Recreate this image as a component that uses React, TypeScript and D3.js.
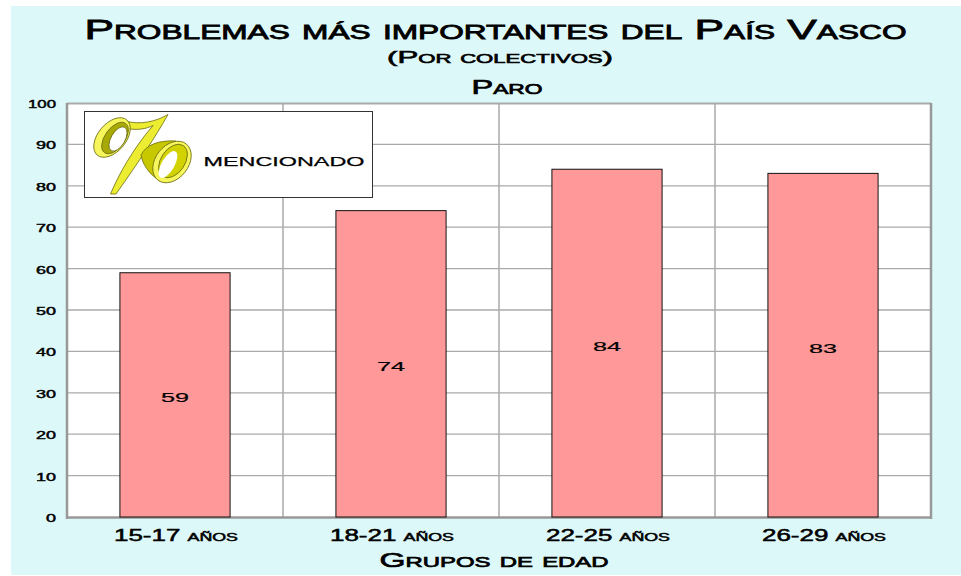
import React from "react";
import * as d3 from "d3";

const categories = ["15-17 años", "18-21 años", "22-25 años", "26-29 años"];
const values = [59, 74, 84, 83];
const yTicks = [0, 10, 20, 30, 40, 50, 60, 70, 80, 90, 100];
const titleText = "Problemas más importantes del País Vasco";
const subtitleText = "(Por colectivos)";
const sectionText = "Paro";
const xAxisTitle = "Grupos de edad";
const logoLabel = "mencionado";

const FONT = "'Liberation Sans', Arial, sans-serif";
const PLOT = { left: 67, right: 931, top: 103, bottom: 517 };

function WideText({ x, y, w, size, sw = 0.6, children }: any) {
  return (
    <text
      x={x}
      y={y}
      textAnchor="middle"
      textLength={w}
      lengthAdjust="spacingAndGlyphs"
      fontFamily={FONT}
      fontSize={size}
      fontWeight={400}
      fill="#000"
      stroke="#000"
      strokeWidth={sw}
      style={{ fontVariant: "small-caps" }}
    >
      {children}
    </text>
  );
}

function PercentLogo() {
  const edge = "#6b6b10";
  return (
    <g stroke={edge} strokeWidth={0.8}>
      <path d="M125 121 C140 125 155 122 168 114.5 C156 136 140 160 116 194 L110.5 194 C118 176 132 150 153 125.5 C146 129 138 130 130 129 Z" fill="#ecec30" />
      <ellipse cx={112} cy={137.5} rx={14} ry={23} transform="rotate(40 112 137.5)" fill="#f6f65c" />
      <ellipse cx={115} cy={138} rx={10} ry={18} transform="rotate(36 115 138)" fill="#a9a905" />
      <ellipse cx={118} cy={139} rx={7} ry={13.5} transform="rotate(30 118 139)" fill="#fff" />
      <path d="M141 155 C146 145 158 140 176 141 L164 182 C155 180 143 168 141 155 Z" fill="#c8c800" />
      <ellipse cx={172} cy={162} rx={16.5} ry={23} transform="rotate(38 172 162)" fill="#f6f65c" />
      <ellipse cx={173} cy={161} rx={12} ry={18.5} transform="rotate(34 173 161)" fill="#d2d200" />
      <ellipse cx={168} cy={164.5} rx={6.5} ry={15} transform="rotate(30 168 164.5)" fill="#fff" stroke="none" />
    </g>
  );
}

export default function App() {
  const x = d3.scaleBand<string>().domain(categories).range([PLOT.left, PLOT.right]).paddingInner(0).paddingOuter(0);
  const y = d3.scaleLinear().domain([0, 100]).range([PLOT.bottom, PLOT.top]);
  const barW = x.bandwidth() * 0.51;

  return (
    <svg width={961} height={576} style={{ position: "absolute", left: 0, top: 0, display: "block" }}>
      <rect x={0} y={0} width={961} height={576} fill="#fff" />
      <rect x={11} y={6} width={950} height={569} fill="#ddf8f8" />

      <WideText x={495.5} y={38.5} w={822} size={28} sw={0.8}>{titleText}</WideText>
      <WideText x={500} y={63} w={226} size={17} sw={0.6}>{subtitleText}</WideText>
      <WideText x={507} y={94} w={71} size={20} sw={0.7}>{sectionText}</WideText>

      <rect x={PLOT.left} y={PLOT.top} width={PLOT.right - PLOT.left} height={PLOT.bottom - PLOT.top} fill="#fff" />

      {yTicks.filter((t) => t > 0 && t < 100).map((t) => (
        <line key={t} x1={PLOT.left} x2={PLOT.right} y1={y(t)} y2={y(t)} stroke="#aaa" strokeWidth={1.3} />
      ))}
      {categories.slice(1).map((c) => (
        <line key={c} x1={x(c)} x2={x(c)} y1={PLOT.top} y2={PLOT.bottom} stroke="#aaa" strokeWidth={1.5} />
      ))}

      <line x1={PLOT.left} x2={PLOT.right} y1={PLOT.top + 0.5} y2={PLOT.top + 0.5} stroke="#aaa" strokeWidth={2} />
      <line x1={PLOT.right} x2={PLOT.right} y1={PLOT.top} y2={PLOT.bottom + 2} stroke="#999" strokeWidth={2.5} />
      <line x1={PLOT.left} x2={PLOT.left} y1={PLOT.top} y2={PLOT.bottom + 2} stroke="#999" strokeWidth={2.5} />
      <line x1={PLOT.left} x2={PLOT.right} y1={PLOT.bottom + 0.5} y2={PLOT.bottom + 0.5} stroke="#999" strokeWidth={2.5} />

      {categories.map((c, i) => {
        const cx = x(c)! + x.bandwidth() / 2;
        return (
          <g key={c}>
            <rect
              x={cx - barW / 2}
              y={y(values[i])}
              width={barW}
              height={PLOT.bottom - y(values[i])}
              fill="#ff9999"
              stroke="#111"
              strokeWidth={1}
            />
            <WideText x={cx} y={(y(values[i]) + PLOT.bottom) / 2 + 7.5} w={28} size={13} sw={0.2}>
              {values[i]}
            </WideText>
            <WideText x={cx + 1} y={541} w={124} size={16} sw={0.5}>{c}</WideText>
          </g>
        );
      })}

      {yTicks.map((t) => (
        <WideText key={t} x={t === 100 ? 42 : t === 0 ? 51 : 46} y={y(t) + 5} w={t === 100 ? 28 : t === 0 ? 10 : 20} size={10} sw={0.4}>
          {t}
        </WideText>
      ))}

      <WideText x={494} y={567} w={229} size={21} sw={0.7}>{xAxisTitle}</WideText>

      <rect x={84.5} y={111.5} width={288} height={86} fill="#fff" stroke="#333" strokeWidth={1} />
      <PercentLogo />
      <WideText x={284} y={166} w={161} size={18} sw={0.25}>{logoLabel}</WideText>
    </svg>
  );
}
